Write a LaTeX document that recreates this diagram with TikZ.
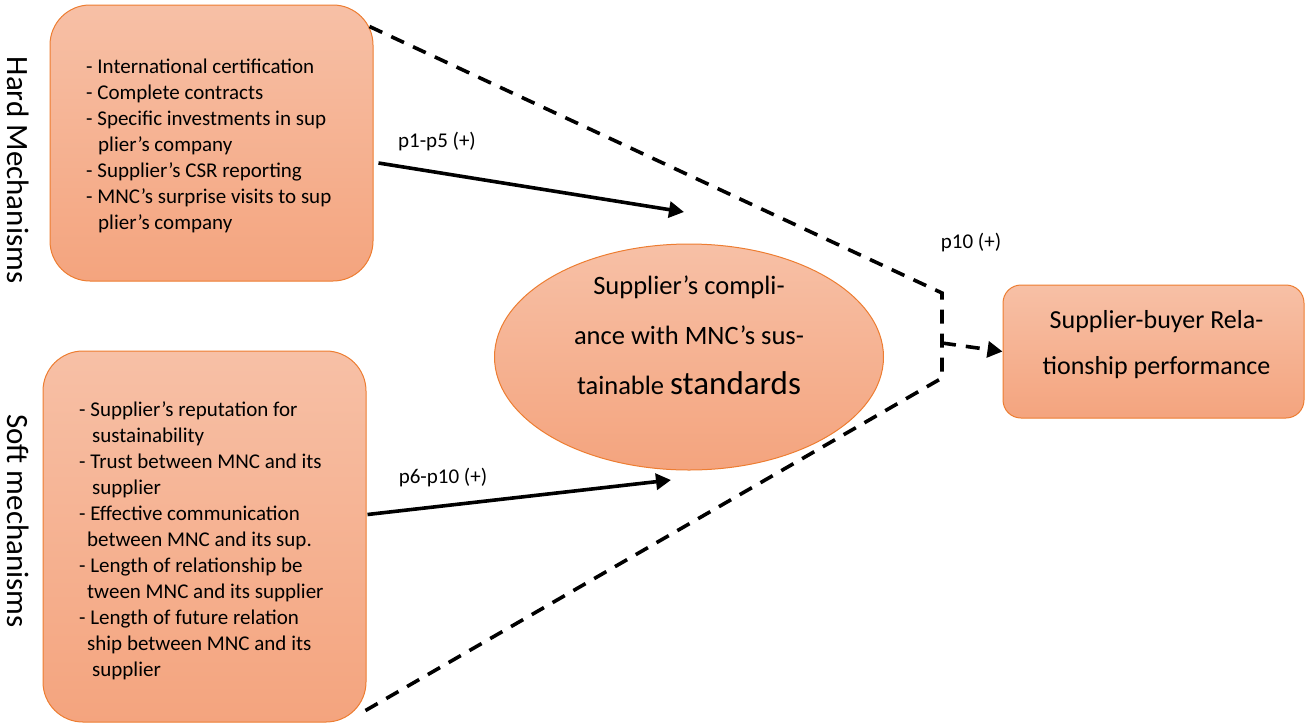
\documentclass[tikz,border=0pt]{standalone}
\usepackage{fontspec}
\setmainfont{Carlito}
\usetikzlibrary{arrows.meta,calc,shapes.geometric}
\definecolor{obord}{RGB}{237,125,49}
\definecolor{otop}{RGB}{247,192,166}
\definecolor{obot}{RGB}{244,164,126}
\tikzset{
  box/.style={draw=obord, line width=1pt, top color=otop, bottom color=obot, inner sep=0pt},
  boxtext/.style={inner sep=0pt, anchor=north west, align=left, font=\fontsize{21}{26}\selectfont},
  vlabel/.style={rotate=-90, inner sep=0pt, font=\fontsize{31}{34}\selectfont},
  plabel/.style={inner sep=0pt, font=\fontsize{21}{24}\selectfont},
  tip/.style={-{Triangle[length=15pt,width=16pt]}},
  solidarrow/.style={line width=3.6pt, tip},
  dashline/.style={line width=3.6pt, dash pattern=on 14pt off 10pt},
}
\begin{document}
\begin{tikzpicture}[x=1pt,y=-1pt]
\useasboundingbox (0,0) rectangle (1307,724);
% boxes
\node[box, rounded corners=40pt, minimum width=323pt, minimum height=276pt] (hard) at (211.5,143) {};
\node[box, rounded corners=40pt, minimum width=323pt, minimum height=371pt] (soft) at (204.5,536.5) {};
\node[box, ellipse, minimum width=389pt, minimum height=226pt] (comp) at (689,357) {};
\node[box, rounded corners=18pt, minimum width=301pt, minimum height=133pt] (perf) at (1153.5,351.5) {};
% texts
\node[boxtext] (hardtext) at (86,59) {- International certification\\- Complete contracts\\- Specific investments in sup\\\hspace{12pt}plier’s company\\- Supplier’s CSR reporting\\- MNC’s surprise visits to sup\\\hspace{12pt}plier’s company};
\node[boxtext] (softtext) at (79,401) {- Supplier’s reputation for\\\hspace{13pt}sustainability\\- Trust between MNC and its\\\hspace{13pt}supplier\\- Effective communication\\\hspace{8pt}between MNC and its sup.\\- Length of relationship be\\\hspace{8pt}tween MNC and its supplier\\- Length of future relation\\\hspace{8pt}ship between MNC and its\\\hspace{13pt}supplier};
\node[inner sep=0pt, align=center, font=\fontsize{26.5}{50}\selectfont] (comptext) at ($(comp.center)+(0,-22)$) {Supplier’s compli-\\ance with MNC’s sus-\\tainable {\fontsize{33}{50}\selectfont standards}};
\node[inner sep=0pt, align=center, font=\fontsize{26}{46}\selectfont] (perftext) at ($(perf.center)+(3,-7)$) {Supplier-buyer Rela-\\tionship performance};
\node[vlabel] (hardlab) at (18,170) {Hard Mechanisms};
\node[vlabel] (softlab) at (18,521) {Soft mechanisms};
\node[plabel] (p15) at (437,142) {p1-p5 (+)};
\node[plabel] (p610) at (443,478) {p6-p10 (+)};
\node[plabel] (p10) at (971,243) {p10 (+)};
% connectors
\coordinate (e1) at (684,212);
\coordinate (e2) at (671,480);
\coordinate (k1) at (942,293);
\coordinate (k2) at (942,378);
\coordinate (km) at (942,343);
\draw[solidarrow] ($(hard.east)+(5,20)$) -- (e1);
\draw[solidarrow] ($(soft.east)+(1,-22)$) -- (e2);
\draw[dashline] ($(hard.north east)+(-4,22)$) -- (k1) -- (k2) -- ($(soft.south east)+(-1,-12)$);
\draw[dashline, tip] (km) -- (perf.west);
\end{tikzpicture}
\end{document}
